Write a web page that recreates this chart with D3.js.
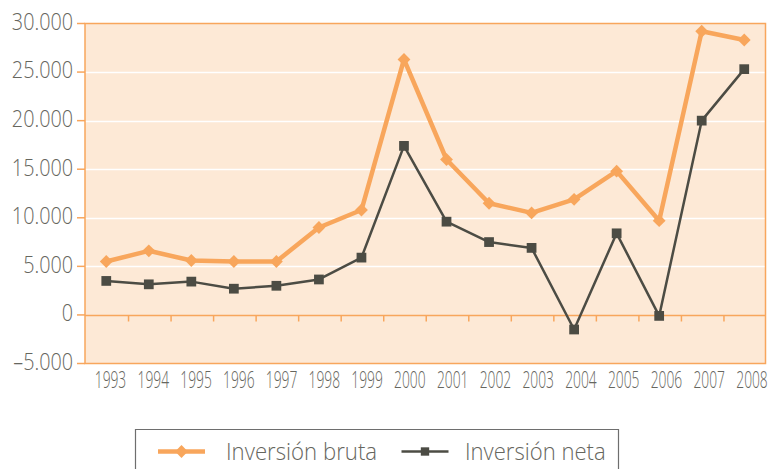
<!DOCTYPE html>
<html>
<head>
<meta charset="utf-8">
<script src="https://cdn.jsdelivr.net/npm/d3@7"></script>
<style>
  html, body { margin: 0; padding: 0; background: #ffffff; }
  svg { display: block; }
  text { font-family: "Open Sans", sans-serif; font-weight: 300; fill: #66665e; }
</style>
</head>
<body>
<svg id="chart" width="782" height="469"></svg>
<script>
// ---- data ----
const years = ["1993","1994","1995","1996","1997","1998","1999","2000","2001","2002","2003","2004","2005","2006","2007","2008"];
const inversionBruta = [5500, 6600, 5600, 5500, 5500, 9000, 10800, 26300, 16000, 11500, 10500, 11900, 14800, 9700, 29200, 28300];
const inversionNeta  = [3500, 3150, 3430, 2700, 3000, 3650, 5900, 17400, 9600, 7500, 6900, -1500, 8400, -100, 20000, 25300];
const yTicks = [-5000, 0, 5000, 10000, 15000, 20000, 25000, 30000];
const yTickLabels = ["\u20135.000", "0", "5.000", "10.000", "15.000", "20.000", "25.000", "30.000"];
const seriesNames = ["Inversión bruta", "Inversión neta"];

// ---- layout ----
const svg = d3.select("#chart");
const pLeft = 85, pRight = 765.5, pTop = 23.5, pBottom = 363.5;
const ORANGE = "#f8a65c", DARK = "#4c4c44", BG = "#fde9d6";

const x = d3.scaleBand().domain(years).range([pLeft, pRight]).paddingInner(0).paddingOuter(0);
const xLabel = d3.scalePoint().domain(years).range([110.5, 752]);
const y = d3.scaleLinear().domain([-5000, 30000]).range([pBottom, pTop]);

// background
svg.append("rect").attr("x", pLeft).attr("y", pTop)
  .attr("width", pRight - pLeft).attr("height", pBottom - pTop).attr("fill", BG);

// gridlines
svg.append("g").selectAll("line").data(yTicks.filter(v => v > 0 && v < 30000)).join("line")
  .attr("x1", pLeft).attr("x2", pRight)
  .attr("y1", d => Math.round(y(d)) + 0.5).attr("y2", d => Math.round(y(d)) + 0.5)
  .attr("stroke", "#ffffff").attr("stroke-width", 1.5);

// border
svg.append("rect").attr("x", pLeft).attr("y", pTop)
  .attr("width", pRight - pLeft).attr("height", pBottom - pTop)
  .attr("fill", "none").attr("stroke", ORANGE).attr("stroke-width", 1.5);

// zero line with ticks
const y0 = Math.round(y(0)) + 0.5;
svg.append("line").attr("x1", pLeft).attr("x2", pRight).attr("y1", y0).attr("y2", y0)
  .attr("stroke", ORANGE).attr("stroke-width", 1.5);
svg.append("g").selectAll("line").data(years.slice(1)).join("line")
  .attr("x1", d => x(d) + 1).attr("x2", d => x(d) + 1)
  .attr("y1", y0).attr("y2", y0 + 6)
  .attr("stroke", ORANGE).attr("stroke-width", 1.5);

// y tick marks + labels
const yAxisG = svg.append("g");
yAxisG.selectAll("line").data(yTicks).join("line")
  .attr("x1", pLeft - 8).attr("x2", pLeft)
  .attr("y1", d => y(d)).attr("y2", d => y(d))
  .attr("stroke", ORANGE).attr("stroke-width", 1.5);
yAxisG.selectAll("text").data(yTicks).join("text")
  .attr("transform", d => `translate(73,${y(d) - 2}) scale(0.86,1)`)
  .attr("dy", "0.36em")
  .attr("text-anchor", "end")
  .attr("font-size", 23)
  .text((d, i) => yTickLabels[i]);

// x labels
svg.append("g").selectAll("text").data(years).join("text")
  .attr("transform", d => `translate(${xLabel(d)},388) scale(0.6,1)`)
  .attr("text-anchor", "middle")
  .attr("font-size", 23)
  .text(d => d);

// lines
const cx = d => x(d) + x.bandwidth() / 2;
const lineGen = d3.line().x(d => cx(d.year)).y(d => y(d.v));
const bruta = years.map((yr, i) => ({year: yr, v: inversionBruta[i]}));
const neta = years.map((yr, i) => ({year: yr, v: inversionNeta[i]}));

svg.append("path").datum(neta).attr("d", lineGen)
  .attr("fill", "none").attr("stroke", DARK).attr("stroke-width", 2.5).attr("stroke-linejoin", "round");
svg.append("path").datum(bruta).attr("d", lineGen)
  .attr("fill", "none").attr("stroke", ORANGE).attr("stroke-width", 4.5).attr("stroke-linejoin", "round");

const diamond = d3.symbol().type(d3.symbolDiamond2).size(105);
const square = d3.symbol().type(d3.symbolSquare).size(95);

svg.append("g").selectAll("path").data(neta).join("path")
  .attr("d", square)
  .attr("transform", d => `translate(${cx(d.year)},${y(d.v)})`)
  .attr("fill", DARK);
svg.append("g").selectAll("path").data(bruta).join("path")
  .attr("d", diamond)
  .attr("transform", d => `translate(${cx(d.year)},${y(d.v)})`)
  .attr("fill", ORANGE);

// legend
const lg = svg.append("g");
lg.append("path").attr("d", "M135.5,475 V429.5 H618.5 V475")
  .attr("fill", "none").attr("stroke", "#6e6e6e").attr("stroke-width", 1.2);
const legendY = 451.5;
lg.append("line").attr("x1", 158).attr("x2", 205).attr("y1", legendY).attr("y2", legendY)
  .attr("stroke", ORANGE).attr("stroke-width", 4.5);
lg.append("path").attr("d", diamond).attr("transform", `translate(181.5,${legendY})`).attr("fill", ORANGE);
lg.append("text").attr("transform", `translate(226,${legendY}) scale(0.925,1)`).attr("dy", "0.36em")
  .attr("font-size", 24)
  .text(seriesNames[0]);
lg.append("line").attr("x1", 401.5).attr("x2", 448.5).attr("y1", legendY).attr("y2", legendY)
  .attr("stroke", DARK).attr("stroke-width", 2.5);
lg.append("path").attr("d", d3.symbol().type(d3.symbolSquare).size(70))
  .attr("transform", `translate(425,${legendY})`).attr("fill", DARK);
lg.append("text").attr("transform", `translate(465,${legendY}) scale(0.92,1)`).attr("dy", "0.36em")
  .attr("font-size", 24)
  .text(seriesNames[1]);
</script>
</body>
</html>
